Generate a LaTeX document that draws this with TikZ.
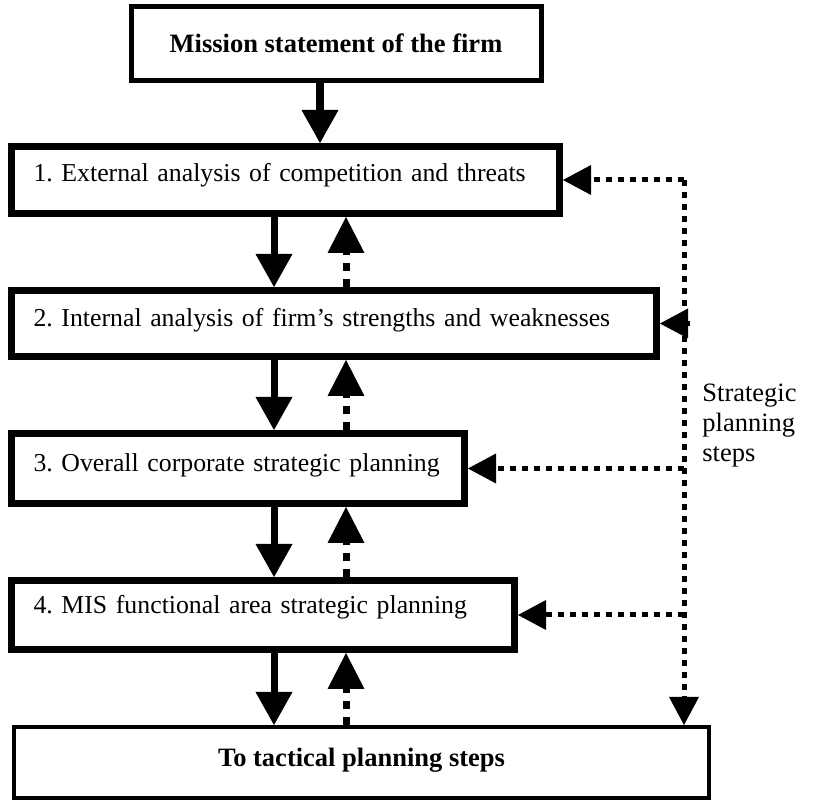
\documentclass[tikz,border=0pt]{standalone}
\usepackage{fontspec}
\setmainfont{Liberation Serif}
\usetikzlibrary{arrows.meta}
\begin{document}
\frenchspacing
\begin{tikzpicture}[x=0.5pt,y=-0.5pt,
  txt/.style={font=\fontsize{13.25pt}{15pt}\selectfont},
  stepbox/.style={draw, line width=3.5pt, rectangle, font=\fontsize{12.9pt}{15pt}\selectfont,
    inner xsep=11pt, inner ysep=0pt, align=left, text height=9pt},
  endbox/.style={draw, rectangle, font=\fontsize{13.25pt}{15pt}\selectfont\bfseries,
    inner sep=0pt, text height=9pt},
  downarrow/.style={line width=3.5pt, -{Triangle[length=16.5pt,width=18.5pt,line width=0pt]}},
  uparrow/.style={line width=3.5pt, dash pattern=on 4pt off 4pt,
    -{Triangle[length=18pt,width=18.5pt,line width=0pt]}},
  dotline/.style={line width=2.5pt, dash pattern=on 3pt off 3pt},
  dotarrow/.style={dotline, -{Triangle[length=14pt,width=15pt,line width=0pt]}}
]
\useasboundingbox (0,0) rectangle (815,801);

% boxes of the planning chain
\node[endbox, line width=2.5pt, minimum width=205pt, minimum height=37pt, text depth=0pt]
  (b0) at (336,44) {Mission statement of the firm};
\node[stepbox, text width=252pt, minimum height=33.5pt, text depth=7pt]
  (b1) at (285.5,180) {\mbox{1. External analysis of competition and threats}};
\node[stepbox, text width=300.5pt, minimum height=33pt, text depth=5.5pt]
  (b2) at (334,323.5) {\mbox{2. Internal analysis of firm’s strengths and weaknesses}};
\node[stepbox, text width=204.5pt, minimum height=35pt, text depth=5.5pt]
  (b3) at (238,468.5) {\mbox{3. Overall corporate strategic planning}};
\node[stepbox, text width=229.5pt, minimum height=34.5pt, text depth=10pt]
  (b4) at (263,615) {\mbox{4. MIS functional area strategic planning}};
\node[endbox, line width=2pt, minimum width=347.5pt, minimum height=35.5pt, text depth=4.5pt]
  (b5) at (361.5,762.5) {To tactical planning steps};

% side label
\node[txt, align=left, anchor=west, inner sep=0pt] (lbl) at (702,426)
  {Strategic\\planning\\steps};

% guide columns for the connectors
\coordinate (cA) at (320,0);
\coordinate (cD) at (274,0);
\coordinate (cU) at (346,0);
\coordinate (cR) at (684,180);
\coordinate (cR2) at (690,0);

% downward flow
\draw[downarrow, line width=4pt] (b0.south -| cA) -- (b1.north -| cA);
\draw[downarrow] (b1.south -| cD) -- (b2.north -| cD);
\draw[downarrow] (b2.south -| cD) -- (b3.north -| cD);
\draw[downarrow] (b3.south -| cD) -- (b4.north -| cD);
\draw[downarrow] (b4.south -| cD) -- (b5.north -| cD);

% feedback upward
\draw[uparrow] (b2.north -| cU) -- (b1.south -| cU);
\draw[uparrow] (b3.north -| cU) -- (b2.south -| cU);
\draw[uparrow] (b4.north -| cU) -- (b3.south -| cU);
\draw[uparrow] (b5.north -| cU) -- (b4.south -| cU);

% strategic planning loop on the right
\draw[dotarrow] (cR) -- (b1.east);
\draw[dotarrow] (cR) -- (b5.north -| cR);
\draw[dotarrow] (b2.east -| cR2) -- (b2.east);
\draw[dotarrow] (b3.east -| cR) -- (b3.east);
\draw[dotarrow] (b4.east -| cR) -- (b4.east);
\end{tikzpicture}
\end{document}
